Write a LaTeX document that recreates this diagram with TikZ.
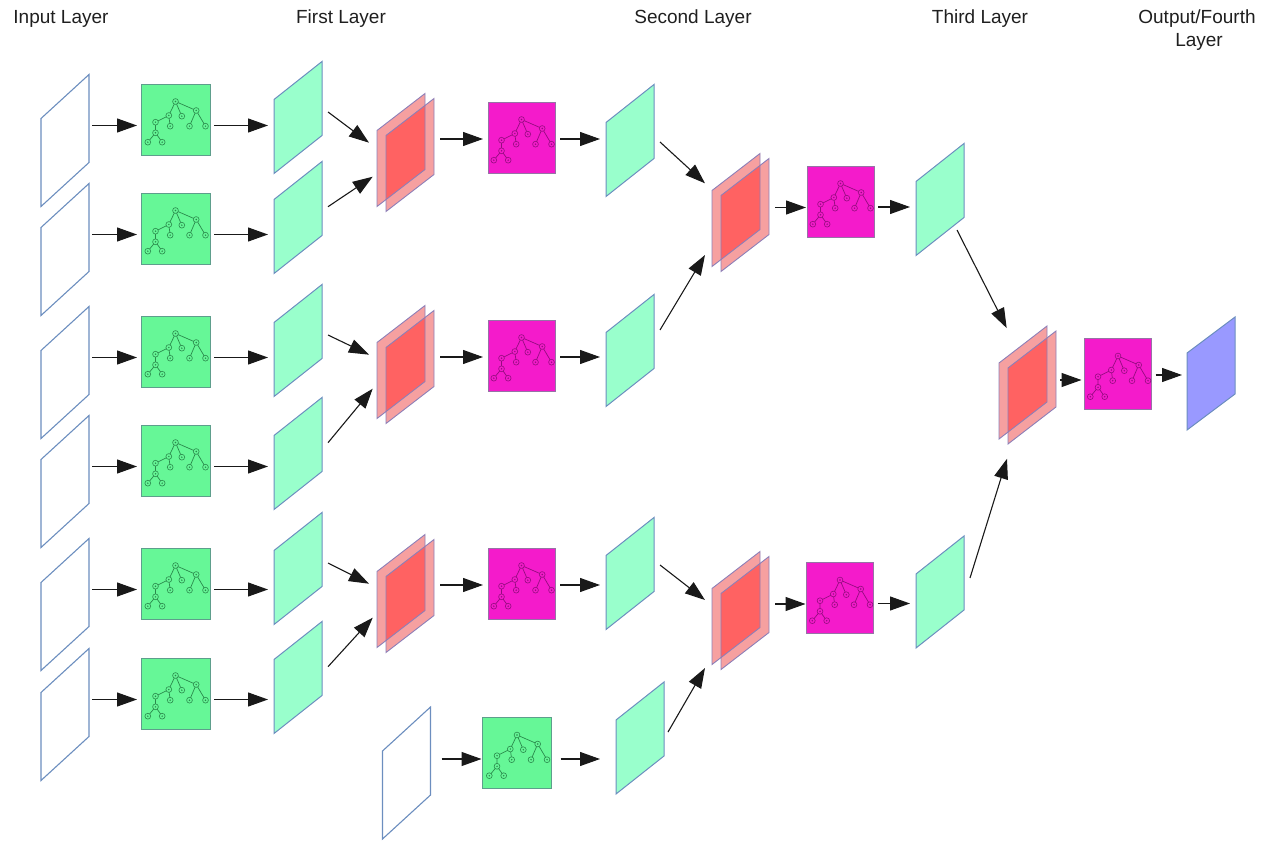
\documentclass[tikz,border=0pt]{standalone}
\usepackage{fontspec}
\setmainfont{Liberation Sans}
\usetikzlibrary{arrows.meta,calc}

\definecolor{sheetline}{HTML}{6C8EBF}
\definecolor{palegreen}{HTML}{99FFCC}
\definecolor{treegreen}{HTML}{66F797}
\definecolor{gboxline}{HTML}{5E9E8C}
\definecolor{greenink}{HTML}{2A8A4C}
\definecolor{magbox}{HTML}{F41BCB}
\definecolor{mboxline}{HTML}{9673A6}
\definecolor{magink}{HTML}{950C80}
\definecolor{pairlight}{HTML}{F6A0A0}
\definecolor{pairdark}{HTML}{FF6262}
\definecolor{pairline}{HTML}{8C7FB8}
\definecolor{outblue}{HTML}{9999FF}

% outline of a sheet: right edge higher than the left one
\newcommand\sheetpath[2]{(#1.north east) -- ++(0,#2) -- (#1.south west) -- ++(0,-#2) -- cycle}
% \sheet{name}{x}{y}{side}{height}{style}
\newcommand\sheet[6]{%
  \node[frame, minimum width=48, minimum height=#5] (#1) at (#2,#3) {};
  \filldraw[#6] \sheetpath{#1}{#4};}
% stacked pair of feature sheets: back sheet #1, front sheet #1f
\newcommand\sheetpair[3]{%
  \node[frame, minimum width=48, minimum height=113] (#1) at (#2,#3) {};
  \node[frame, minimum width=48, minimum height=113] (#1f) at ($(#1)+(9,5)$) {};
  \fill[pairlight] \sheetpath{#1}{76};
  \fill[pairlight] \sheetpath{#1f}{76};
  \begin{scope}
    \clip \sheetpath{#1}{76};
    \fill[pairdark] \sheetpath{#1f}{76};
  \end{scope}
  \draw[pairedge] \sheetpath{#1}{76};
  \draw[pairedge] \sheetpath{#1f}{76};}
% box holding a tree
\newcommand\treebox[5]{%
  \node[#4] (#1) at (#2,#3) {};
  \pic[#5] at (#1) {tree};}
% horizontal connector {from}{to}{reference node for y}{dy}{gap at start}{gap at end}
\newcommand\harrow[6]{%
  \draw[arr] ($(#1.east |- #3)+(#5,#4)$) -- ($(#2.west |- #3)+(-#6,#4)$);}

\tikzset{
  treeink/.store in=\treeink, treeink=black,
  treefill/.store in=\treefill, treefill=white,
  tree/.pic={
    \draw[draw=\treeink, line width=0.7pt]
      (0,-18) -- (-6.7,-4) (0,-18) -- (6.3,-3.3) (0,-18) -- (20.7,-9)
      (-6.7,-4) -- (-20,2.7) (-6.7,-4) -- (-5.3,6.7)
      (20.7,-9) -- (14,6.7) (20.7,-9) -- (30,6.7)
      (-20,2.7) -- (-20,13.3) (-20,13.3) -- (-27.7,22.7) (-20,13.3) -- (-13.3,22.7);
    \foreach \p in {(0,-18),(-6.7,-4),(6.3,-3.3),(20.7,-9),(-20,2.7),(-5.3,6.7),
                    (14,6.7),(30,6.7),(-20,13.3),(-27.7,22.7),(-13.3,22.7)}{
      \filldraw[draw=\treeink, fill=\treefill, line width=0.6pt] \p circle (2.9);
      \fill[\treeink] \p circle (0.8);
    }
  },
  frame/.style={rectangle, inner sep=0pt, outer sep=0pt, draw=none},
  gbox/.style={rectangle, inner sep=0pt, outer sep=0pt, minimum width=69, minimum height=71,
    fill=treegreen, draw=gboxline, line width=0.9pt},
  mbox/.style={rectangle, inner sep=0pt, outer sep=0pt, minimum width=67, minimum height=71,
    fill=magbox, draw=mboxline, line width=0.9pt},
  inputsheet/.style={fill=white, draw=sheetline, line width=1.1pt},
  palesheet/.style={fill=palegreen, draw=sheetline, line width=1pt},
  outsheet/.style={fill=outblue, draw=sheetline, line width=1pt},
  pairedge/.style={draw=pairline, line width=0.9pt},
  greentree/.style={treeink=greenink, treefill=treegreen},
  magtree/.style={treeink=magink, treefill=magbox},
  arr/.style={-{Triangle[length=20pt,width=14pt]}, line width=1.1pt, draw=black!90},
  lbl/.style={font=\fontsize{19}{23}\selectfont, text=black!88, anchor=base, inner sep=0pt, align=center},
}

\begin{document}
\begin{tikzpicture}[x=1pt,y=-1pt]
\useasboundingbox (0,0) rectangle (1261,842);

% layer titles
\node[lbl] (tin)  at (61,24)   {Input Layer};
\node[lbl] (tfst) at (341,24)  {First Layer};
\node[lbl] (tsnd) at (693,24)  {Second Layer};
\node[lbl] (tthd) at (980,24)  {Third Layer};
\node[lbl] (tout) at (1197,24) {Output/Fourth};
\node[lbl] (tout2) at (1199,47) {Layer};

% input sheets
\sheet{a1}{65}{140.5}{88}{132}{inputsheet}
\sheet{a2}{65}{249.5}{88}{132}{inputsheet}
\sheet{a3}{65}{372.5}{88}{132}{inputsheet}
\sheet{a4}{65}{481.5}{88}{132}{inputsheet}
\sheet{a5}{65}{604.5}{88}{132}{inputsheet}
\sheet{a6}{65}{714.5}{88}{132}{inputsheet}
\sheet{a7}{406.5}{773}{88}{132}{inputsheet}

% first layer tree boxes
\treebox{b1}{175.5}{119.5}{gbox}{greentree}
\treebox{b2}{175.5}{228.5}{gbox}{greentree}
\treebox{b3}{175.5}{351.5}{gbox}{greentree}
\treebox{b4}{175.5}{460.5}{gbox}{greentree}
\treebox{b5}{175.5}{583.5}{gbox}{greentree}
\treebox{b6}{175.5}{693.5}{gbox}{greentree}
\treebox{b7}{517}{753}{gbox}{greentree}

% first layer outputs
\sheet{c1}{298}{117.5}{74}{112}{palesheet}
\sheet{c2}{298}{217.5}{74}{112}{palesheet}
\sheet{c3}{298}{340.5}{74}{112}{palesheet}
\sheet{c4}{298}{453.5}{74}{112}{palesheet}
\sheet{c5}{298}{568.5}{74}{112}{palesheet}
\sheet{c6}{298}{677.5}{74}{112}{palesheet}

% second layer
\sheetpair{d1}{401}{150}
\sheetpair{d2}{401}{362}
\sheetpair{d3}{401}{591}
\treebox{e1}{521.5}{137.5}{mbox}{magtree}
\treebox{e2}{521.5}{355.5}{mbox}{magtree}
\treebox{e3}{521.5}{583.5}{mbox}{magtree}
\sheet{f1}{630}{140.5}{74}{112}{palesheet}
\sheet{f2}{630}{350.5}{74}{112}{palesheet}
\sheet{f3}{630}{573.5}{74}{112}{palesheet}
\sheet{f4}{640}{738}{74}{112}{palesheet}

% third layer
\sheetpair{g1}{736}{210}
\sheetpair{g2}{736}{608}
\treebox{h1}{840.5}{201.5}{mbox}{magtree}
\treebox{h2}{840}{598}{mbox}{magtree}
\sheet{i1}{940}{199.5}{74}{112}{palesheet}
\sheet{i2}{940}{592}{74}{112}{palesheet}

% output / fourth layer
\sheetpair{j}{1023}{382.5}
\treebox{k}{1118}{374}{mbox}{magtree}
\sheet{l}{1211}{373.5}{77}{113}{outsheet}

% row connectors
\foreach \r in {1,...,6}{
  \harrow{a\r}{b\r}{b\r}{6}{3}{4}
  \harrow{b\r}{c\r}{b\r}{6}{4}{6}
}
\harrow{a7}{b7}{b7}{6}{11}{1}
\harrow{b7}{f4}{b7}{6}{9}{16}

% merging into the second layer
\draw[arr] ($(c1)+(30,-5.5)$) -- ($(d1)+(-32,-7.3)$);
\draw[arr] ($(c2)+(30,-10.8)$) -- ($(d1)+(-28.3,26.7)$);
\draw[arr] ($(c3)+(30,-5.5)$) -- ($(d2)+(-32,-7.3)$);
\draw[arr] ($(c4)+(30,-10.8)$) -- ($(d2)+(-28.3,26.7)$);
\draw[arr] ($(c5)+(30,-5.5)$) -- ($(d3)+(-32,-7.3)$);
\draw[arr] ($(c6)+(30,-10.8)$) -- ($(d3)+(-28.3,26.7)$);

\harrow{d1f}{e1}{e1}{1.5}{6}{5}
\harrow{d2f}{e2}{e2}{1.5}{6}{5}
\harrow{d3f}{e3}{e3}{1.5}{6}{5}
\harrow{e1}{f1}{e1}{1.5}{5}{6}
\harrow{e2}{f2}{e2}{1.5}{5}{6}
\harrow{e3}{f3}{e3}{1.5}{5}{6}

% merging into the third layer
\draw[arr] ($(f1)+(30,1.5)$) -- ($(g1)+(-31,-26.7)$);
\draw[arr] ($(f2)+(30,-20.5)$) -- ($(g1)+(-31,45)$);
\draw[arr] ($(f3)+(30,-8.5)$) -- ($(g2)+(-31,-8)$);
\draw[arr] ($(f4)+(28,-6)$) -- ($(g2)+(-31,60)$);

\harrow{g1f}{h1}{h1}{6}{6}{1}
\harrow{g2f}{h2}{h2}{6}{6}{1}
\harrow{h1}{i1}{h1}{5.5}{4}{6}
\harrow{h2}{i2}{h2}{5.5}{4}{6}

% merging into the output layer
\draw[arr] ($(i1)+(17,30.5)$) -- ($(j)+(-16.3,-54.4)$);
\draw[arr] ($(i2)+(30,-14)$) -- ($(j)+(-16,76.3)$);
\harrow{jf}{k}{k}{6}{4}{3}
\harrow{k}{l}{k}{1}{4}{5}
\end{tikzpicture}
\end{document}
